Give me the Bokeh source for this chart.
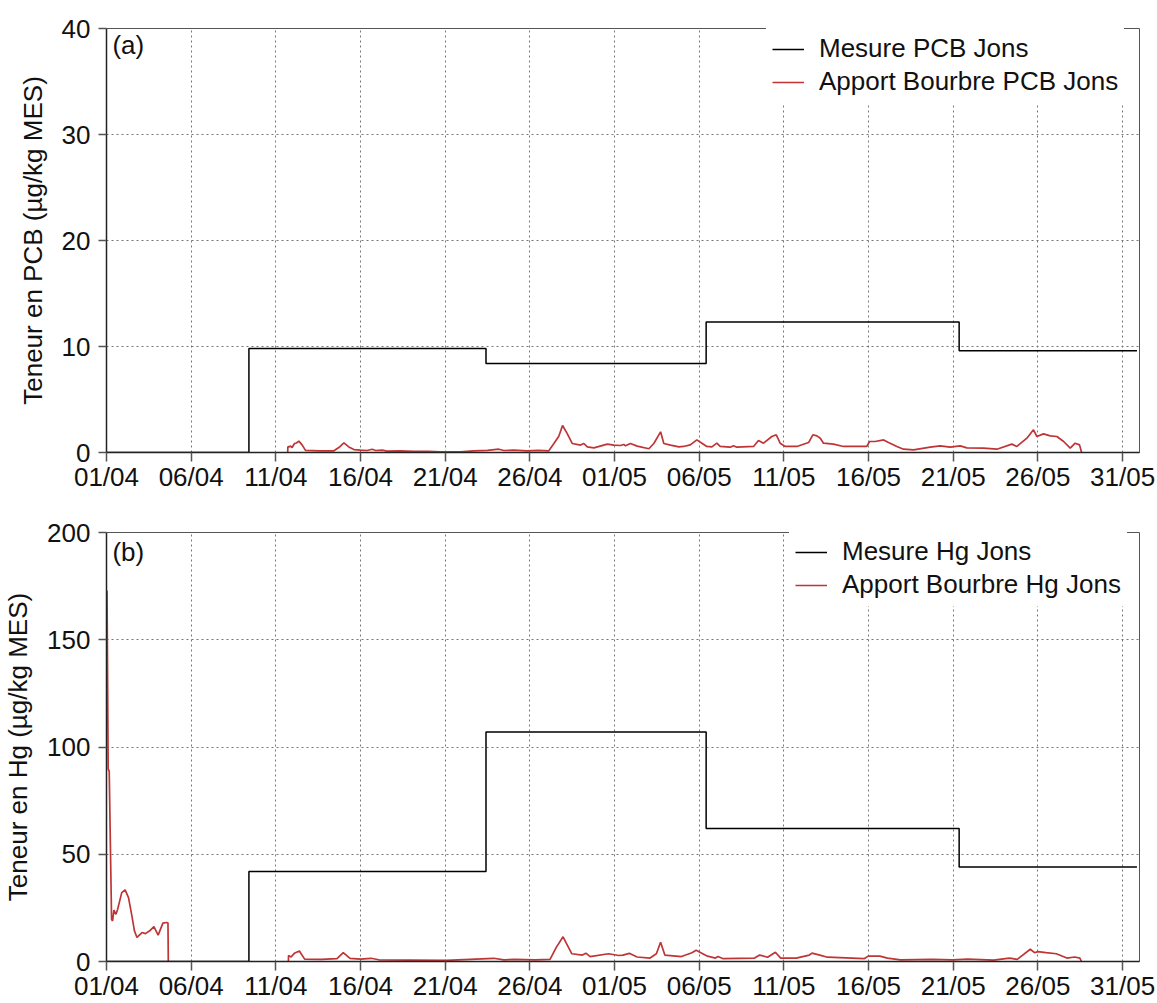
from bokeh.plotting import figure
from bokeh.layouts import column
from bokeh.models import Range1d, FixedTicker, Legend, LegendItem, Label
from bokeh.embed import file_html
from bokeh.resources import INLINE

FONT = "Liberation Sans"
RED = "#bf3535"

# x axis: days since 01/04
tick_days = [0, 5, 10, 15, 20, 25, 30, 35, 40, 45, 50, 55, 60]
tick_labels = ["01/04", "06/04", "11/04", "16/04", "21/04", "26/04", "01/05",
               "06/05", "11/05", "16/05", "21/05", "26/05", "31/05"]

# measured (step) series
step_days = [0, 8.41, 22.41, 35.41, 50.35, 60.85]
pcb_mesure = [0, 9.8, 8.4, 12.3, 9.6, 9.6]
hg_mesure = [0, 42, 107, 62, 44, 44]

# apport bourbre PCB (day, value)
pcb_apport = [
    (10.70, 0), (10.71, 0.55), (10.77, 0.53), (10.87, 0.6), (10.96, 0.47), (11.10, 0.85),
    (11.22, 0.9), (11.36, 1.07), (11.56, 0.7), (11.75, 0.2), (12.6, 0.16), (13.43, 0.16),
    (13.72, 0.47), (14.02, 0.9), (14.31, 0.53), (14.61, 0.28), (15.0, 0.22), (15.39, 0.19),
    (15.69, 0.31), (15.89, 0.19), (16.28, 0.22), (16.57, 0.13), (17.3, 0.15), (18.15, 0.12),
    (19.0, 0.1), (19.72, 0.07), (20.91, 0.06), (21.69, 0.16), (22.5, 0.2), (23.17, 0.31),
    (23.46, 0.19), (24.06, 0.22), (24.84, 0.16), (25.5, 0.2), (26.12, 0.16), (26.42, 0.85),
    (26.71, 1.54), (26.93, 2.55), (27.20, 1.8), (27.50, 0.85), (27.99, 0.7), (28.19, 0.85),
    (28.39, 0.53), (28.78, 0.44), (29.57, 0.79), (29.96, 0.7), (30.35, 0.66), (30.55, 0.75),
    (30.65, 0.63), (30.94, 0.85), (31.34, 0.6), (32.03, 0.35), (32.32, 0.85), (32.72, 1.95),
    (32.91, 0.85), (33.31, 0.7), (33.80, 0.53), (34.07, 0.57), (34.47, 0.72), (34.86, 1.19),
    (35.16, 0.88), (35.45, 0.57), (35.75, 0.53), (36.04, 0.88), (36.24, 0.57), (36.83, 0.5),
    (37.03, 0.63), (37.22, 0.5), (38.21, 0.57), (38.50, 1.13), (38.80, 0.88), (39.29, 1.51),
    (39.55, 1.67), (39.78, 0.88), (40.08, 0.57), (40.77, 0.57), (41.46, 0.94), (41.71, 1.67),
    (41.95, 1.57), (42.15, 1.35), (42.34, 0.88), (42.93, 0.79), (43.52, 0.57), (44.90, 0.57),
    (45.06, 1.04), (45.39, 1.04), (45.89, 1.19), (46.18, 0.94), (46.67, 0.57), (47.07, 0.31),
    (47.66, 0.25), (48.64, 0.5), (49.23, 0.63), (49.82, 0.5), (50.41, 0.63), (50.81, 0.44),
    (51.79, 0.41), (52.58, 0.31), (53.46, 0.79), (53.76, 0.57), (54.35, 1.35), (54.74, 2.14),
    (54.94, 1.51), (55.33, 1.76), (55.73, 1.57), (56.12, 1.51), (56.52, 1.04), (56.91, 0.41),
    (57.20, 0.88), (57.46, 0.72), (57.58, 0.0),
]

# apport bourbre Hg (day, value): early segment and main segment
hg_apport_early = [
    (0.03, 173), (0.1, 89.6), (0.16, 88.8), (0.3, 19.7), (0.36, 18.9), (0.44, 24), (0.56, 22),
    (0.66, 24.4), (0.9, 32.1), (1.1, 33.4), (1.3, 29.8), (1.5, 21.3), (1.65, 14.3), (1.8, 11.2),
    (2.1, 13.5), (2.3, 13), (2.55, 14.3), (2.8, 16.3), (3.05, 12.3), (3.33, 17.9), (3.53, 18.2),
    (3.63, 18.0), (3.65, 0),
]
hg_apport_main = [
    (10.74, 0), (10.75, 2.8), (10.9, 2.1), (11.09, 3.8), (11.39, 4.9), (11.7, 1.1), (12.69, 1.0),
    (13.61, 1.3), (13.98, 4.1), (14.38, 1.5), (15.0, 1.1), (15.62, 1.5), (16.08, 0.8),
    (17.93, 0.65), (20.08, 0.5), (22.86, 1.5), (23.47, 0.8), (24.09, 1.0), (25.32, 0.8),
    (26.19, 1.0), (26.56, 6.6), (26.96, 11.5), (27.48, 3.6), (28.1, 3.0), (28.31, 3.9),
    (28.56, 2.3), (29.64, 3.6), (30.25, 2.8), (30.5, 3.0), (30.87, 3.8), (31.33, 2.1),
    (32.1, 1.6), (32.47, 3.6), (32.72, 9.0), (32.97, 3.0), (33.95, 2.3), (34.57, 4.1),
    (34.82, 5.2), (35.49, 2.5), (35.96, 1.6), (36.11, 2.3), (36.42, 1.3), (38.27, 1.6),
    (38.57, 3.0), (39.04, 2.0), (39.5, 4.3), (39.81, 1.6), (40.73, 1.6), (41.5, 3.0),
    (41.66, 3.9), (42.12, 3.0), (42.58, 2.0), (44.74, 1.3), (44.98, 2.5), (45.66, 2.5),
    (46.12, 1.6), (46.89, 0.8), (48.74, 1.0), (49.97, 0.8), (50.85, 1.1), (52.39, 0.65),
    (53.32, 1.6), (53.78, 1.0), (54.55, 5.7), (54.8, 4.1), (55.0, 4.6), (55.48, 4.1),
    (56.09, 3.6), (56.71, 1.6), (57.17, 2.1), (57.48, 1.6), (57.57, 0),
]

pcb_yticks = [0, 10, 20, 30, 40]
hg_yticks = [0, 50, 100, 150, 200]


def split(segments):
    xs, ys = [], []
    for i, seg in enumerate(segments):
        if i > 0:
            xs.append(float("nan"))
            ys.append(float("nan"))
        xs += [d for d, v in seg]
        ys += [v for d, v in seg]
    return xs, ys


def make_panel(ymax, yticks, ylabel, tag, label_y, mesure, apport_segments, names,
               height, top, bottom, legend_loc):
    p = figure(width=1155, height=height, x_range=Range1d(0, 61), y_range=Range1d(0, ymax),
               output_backend="svg", toolbar_location=None,
               min_border_left=102, min_border_right=16, min_border_top=top,
               min_border_bottom=bottom)
    p.background_fill_color = "white"
    p.border_fill_color = "white"
    p.outline_line_color = "#555555"
    p.outline_line_width = 1

    xt = FixedTicker(ticks=tick_days)
    yt = FixedTicker(ticks=yticks)
    p.xaxis.ticker = xt
    p.xgrid.ticker = xt
    p.yaxis.ticker = yt
    p.ygrid.ticker = yt
    p.xaxis.major_label_overrides = {d: l for d, l in zip(tick_days, tick_labels)}

    for ax in (p.xaxis[0], p.yaxis[0]):
        ax.axis_line_color = "#222222"
        ax.axis_line_width = 1.5
        ax.major_tick_line_color = "#555555"
        ax.major_tick_line_width = 1.5
        ax.major_tick_in = 0
        ax.minor_tick_line_color = None
        ax.major_label_text_font = FONT
        ax.major_label_text_font_size = "26px"
        ax.major_label_text_color = "#111111"
        ax.axis_label_text_font = FONT
        ax.axis_label_text_font_size = "26px"
        ax.axis_label_text_font_style = "normal"
        ax.axis_label_text_color = "#111111"
    p.xaxis.major_tick_out = 9
    p.xaxis.major_label_standoff = 0
    p.yaxis.major_tick_out = 8
    p.yaxis.major_label_standoff = 8
    p.yaxis.axis_label = ylabel
    p.yaxis.axis_label_standoff = 11

    for g in (p.xgrid[0], p.ygrid[0]):
        g.grid_line_color = "#777777"
        g.grid_line_dash = "2 3"
        g.grid_line_width = 1

    xs, ys = split(apport_segments)
    r_red = p.line(xs, ys, line_color=RED, line_width=1.7)
    r_blk = p.step(step_days, mesure, mode="after", line_color="black", line_width=1.5)

    legend = Legend(items=[LegendItem(label=names[0], renderers=[r_blk]),
                           LegendItem(label=names[1], renderers=[r_red])],
                    location=legend_loc)
    legend.label_text_font = FONT
    legend.label_text_font_size = "26px"
    legend.label_text_color = "#111111"
    legend.glyph_width = 32
    legend.glyph_height = 20
    legend.label_standoff = 15
    legend.spacing = 2
    legend.padding = 6
    legend.margin = 0
    legend.border_line_alpha = 0
    legend.background_fill_color = "white"
    legend.background_fill_alpha = 1
    p.add_layout(legend)

    p.add_layout(Label(x=0.35, y=label_y, text=tag, text_font=FONT, text_font_size="26px",
                       text_baseline="middle", text_color="#111111"))
    return p


pa = make_panel(40, pcb_yticks, "Teneur en PCB (µg/kg MES)", "(a)", 38.4, pcb_mesure,
                [pcb_apport], ("Mesure PCB Jons", "Apport Bourbre PCB Jons"), 500, 28, 48,
                (660, 349))
pb = make_panel(200, hg_yticks, "Teneur en Hg (µg/kg MES)", "(b)", 191, hg_mesure,
                [hg_apport_early, hg_apport_main], ("Mesure Hg Jons", "Apport Bourbre Hg Jons"),
                503, 32, 41, (683, 355))

layout = column(pa, pb, spacing=0)
open("out.html", "w").write(file_html(layout, INLINE))
